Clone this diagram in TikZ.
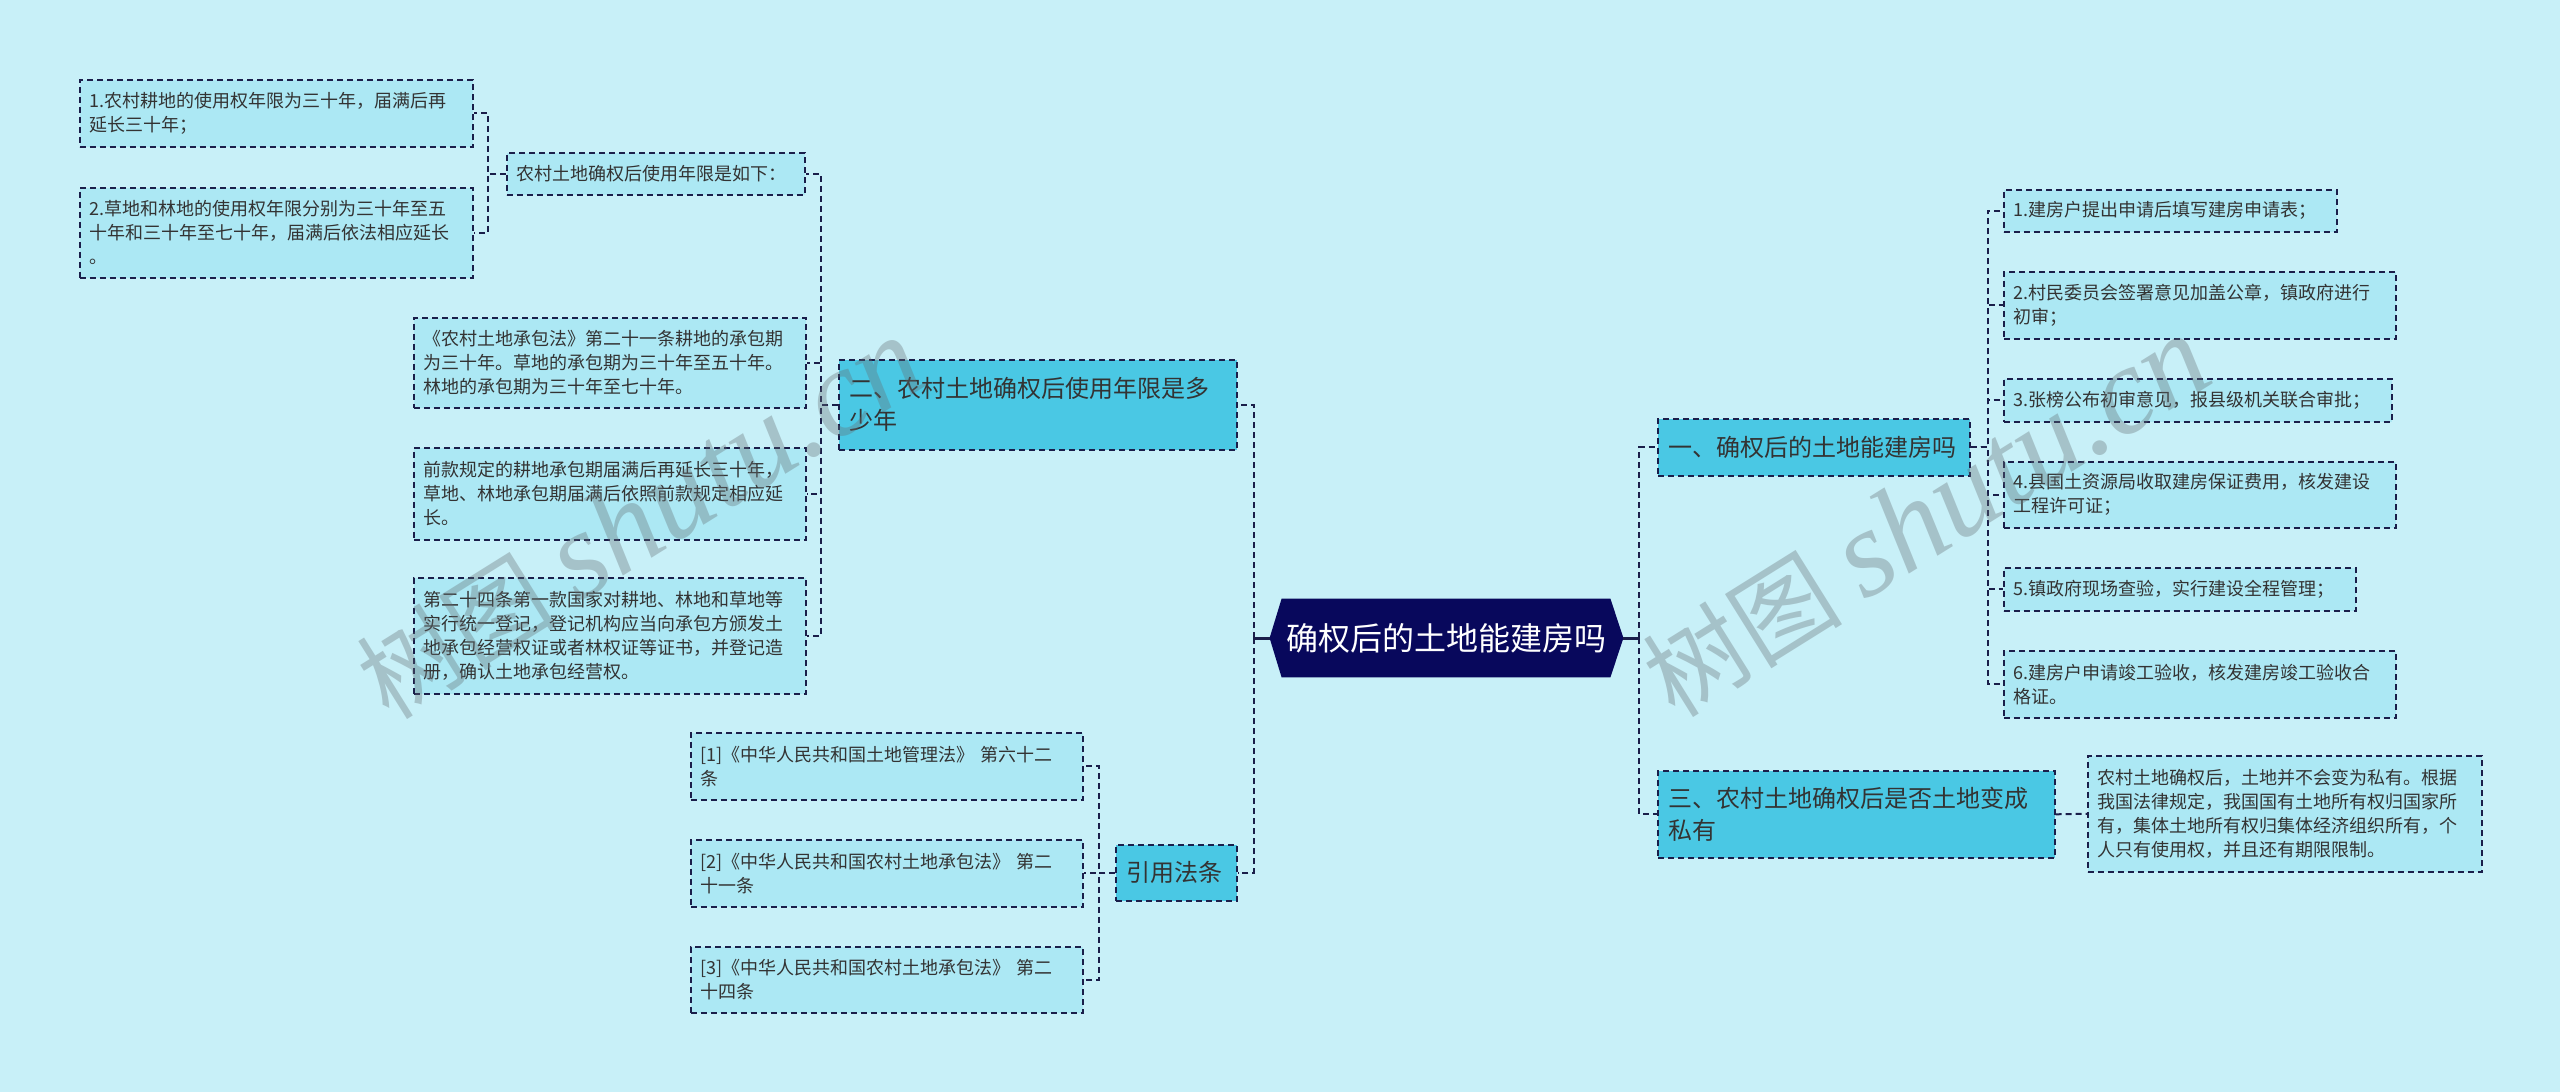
\documentclass[tikz,border=0pt]{standalone}
\usepackage{fontspec}
\setmainfont{Noto Sans CJK SC}
\newfontfamily\wmfont{Liberation Serif}
\usetikzlibrary{backgrounds}
\definecolor{bgc}{HTML}{C8F0F8}
\definecolor{leafc}{HTML}{ACE8F4}
\definecolor{topicc}{HTML}{4AC8E4}
\definecolor{rootc}{HTML}{08085C}
\definecolor{linec}{HTML}{1A1E4A}
\definecolor{textc}{HTML}{333333}
\definecolor{markc}{HTML}{646E73}

\begin{document}
\begin{tikzpicture}[
		x=0.5pt, y=-0.5pt,
		leaf/.style={draw=linec, line width=0.8pt, dash pattern=on 3pt off 2pt, fill=leafc, text=textc, font=\fontsize{9}{12}\selectfont, align=left, anchor=north west, inner xsep=5pt, inner ysep=2pt},
		topic/.style={leaf, fill=topicc, font=\fontsize{12}{16}\selectfont, inner xsep=5.5pt},
		rootbox/.style={inner sep=0pt, minimum width=164pt, minimum height=39pt, text=white, font=\fontsize{16}{18}\selectfont},
		link/.style={draw=linec, line width=1pt, dash pattern=on 3pt off 2pt},
		stub/.style={draw=linec, line width=1.5pt},
		watermark/.style={rotate=32, text=markc, text opacity=0.35, inner sep=0pt}
		]
		\begin{scope}[on background layer]
			\fill[bgc] (0,0) rectangle (2560,1092);
		\end{scope}
		
		\node [rootbox] (root) at (1446,638) {确权后的土地能建房吗};
		\coordinate (rootL) at ([xshift=-6pt]root.west);
		\coordinate (rootR) at ([xshift=6.5pt]root.east);
		
		\node [topic, text width=188pt, minimum height=45pt] (b2) at (838,359) {二、农村土地确权后使用年限是多\\少年};
		\node [leaf, text width=139pt, minimum height=21pt] (q) at (506,152) {农村土地确权后使用年限是如下：};
		\node [leaf, text width=186.5pt, minimum height=33.5pt] (q1) at (79,79) {1.农村耕地的使用权年限为三十年，届满后再\\延长三十年；};
		\node [leaf, text width=186.5pt, minimum height=45pt] (q2) at (79,187) {2.草地和林地的使用权年限分别为三十年至五\\十年和三十年至七十年，届满后依法相应延长\\。};
		\node [leaf, text width=186pt, minimum height=45pt] (c21) at (413,317) {《农村土地承包法》第二十一条耕地的承包期\\为三十年。草地的承包期为三十年至五十年。\\林地的承包期为三十年至七十年。};
		\node [leaf, text width=186pt, minimum height=46pt] (c22) at (413,447) {前款规定的耕地承包期届满后再延长三十年，\\草地、林地承包期届满后依照前款规定相应延\\长。};
		\node [leaf, text width=186pt, minimum height=58pt] (c23) at (413,577) {第二十四条第一款国家对耕地、林地和草地等\\实行统一登记，登记机构应当向承包方颁发土\\地承包经营权证或者林权证等证书，并登记造\\册，确认土地承包经营权。};
		
		\node [topic, text width=49.5pt, minimum height=28pt] (law) at (1115,844) {引用法条};
		\node [leaf, text width=186pt, minimum height=33.5pt] (r1) at (690,732) {[1]《中华人民共和国土地管理法》 第六十二\\条};
		\node [leaf, text width=186pt, minimum height=33.5pt] (r2) at (690,839) {[2]《中华人民共和国农村土地承包法》 第二\\十一条};
		\node [leaf, text width=186pt, minimum height=33pt] (r3) at (690,946) {[3]《中华人民共和国农村土地承包法》 第二\\十四条};
		
		\node [topic, text width=145pt, minimum height=28.5pt] (b1) at (1657,418) {一、确权后的土地能建房吗};
		\node [leaf, text width=156.5pt, minimum height=21pt] (s1) at (2003,189) {1.建房户提出申请后填写建房申请表；};
		\node [leaf, text width=186pt, minimum height=33.5pt] (s2) at (2003,271) {2.村民委员会签署意见加盖公章，镇政府进行\\初审；};
		\node [leaf, text width=184pt, minimum height=21.5pt] (s3) at (2003,378) {3.张榜公布初审意见，报县级机关联合审批；};
		\node [leaf, text width=186pt, minimum height=33pt] (s4) at (2003,461) {4.县国土资源局收取建房保证费用，核发建设\\工程许可证；};
		\node [leaf, text width=166pt, minimum height=21.5pt] (s5) at (2003,567) {5.镇政府现场查验，实行建设全程管理；};
		\node [leaf, text width=186pt, minimum height=33.5pt] (s6) at (2003,650) {6.建房户申请竣工验收，核发建房竣工验收合\\格证。};
		
		\node [topic, text width=187.5pt, minimum height=43.5pt] (b3) at (1657,770) {三、农村土地确权后是否土地变成\\私有};
		\node [leaf, text width=187pt, minimum height=58pt] (t1) at (2087,755) {农村土地确权后，土地并不会变为私有。根据\\我国法律规定，我国国有土地所有权归国家所\\有，集体土地所有权归集体经济组织所有，个\\人只有使用权，并且还有期限限制。};
		
		\begin{scope}[on background layer]
			\fill[rootc] (root.north west) -- (root.north east) -- (rootR) -- (root.south east) -- (root.south west) -- (rootL) -- cycle;
			\draw[stub] (rootL) -- ++(-16,0) coordinate (lv);
			\draw[stub] (rootR) -- ++(16,0) coordinate (rv);
			\draw[link] (lv) |- (b2.east);
			\draw[link] (lv) |- (law.east);
			\draw[link] (rv) |- (b1.west);
			\draw[link] (rv) |- (b3.west);
			
			\foreach \c in {q, c21, c22, c23}
				\draw[link] (b2.west) -- ++(-17,0) |- (\c.east);
			\foreach \c in {q1, q2}
				\draw[link] (q.west) -- ++(-18,0) |- (\c.east);
			\foreach \c in {r1, r2, r3}
				\draw[link] (law.west) -- ++(-16,0) |- (\c.east);
			\foreach \c in {s1, s2, s3, s4, s5, s6}
				\draw[link] (b1.east) -- ++(17,0) |- (\c.west);
			\draw[link] (b3.east) -- (t1.west);
		\end{scope}
		
		\node [watermark] (wmleft) at (640,519) {\fontsize{50}{50}\selectfont 树图 {\wmfont\itshape\fontsize{62}{62}\selectfont shutu.cn}};
		\node [watermark] (wmright) at (1926,517) {\fontsize{50}{50}\selectfont 树图 {\wmfont\itshape\fontsize{62}{62}\selectfont shutu.cn}};
	\end{tikzpicture}
\end{document}
